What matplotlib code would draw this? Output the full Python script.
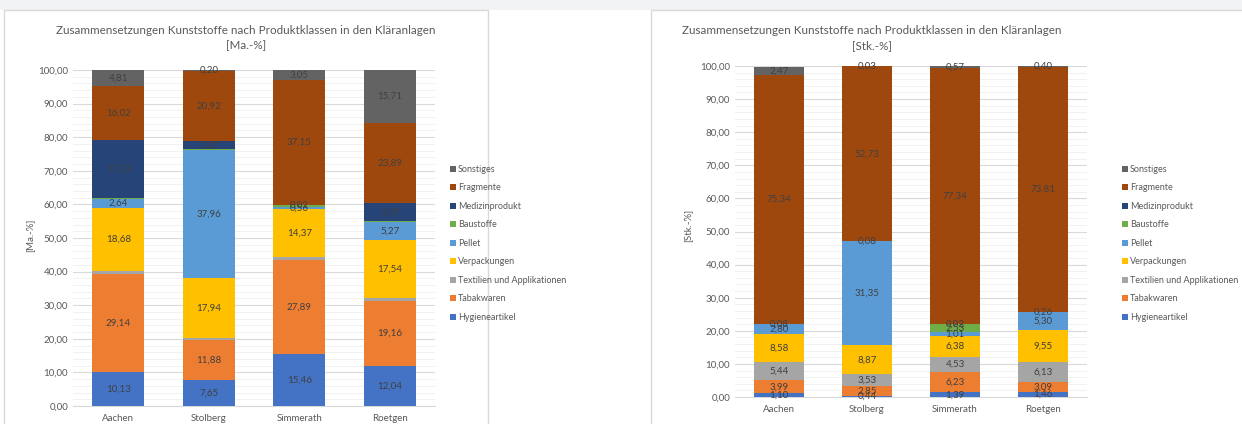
"""Zusammensetzung Kunststoffe nach Produktklassen (Ma.-% und Stk.-%)."""
import matplotlib
matplotlib.use("Agg")
import matplotlib.pyplot as plt
from matplotlib.patches import Rectangle
from matplotlib.ticker import MultipleLocator

plt.rcParams["font.family"] = ["Lato", "DejaVu Sans"]

standorte = ["Aachen", "Stolberg", "Simmerath", "Roetgen"]
klassen = ["Hygieneartikel", "Tabakwaren", "Textilien und Applikationen", "Verpackungen",
           "Pellet", "Baustoffe", "Medizinprodukt", "Fragmente", "Sonstiges"]
farben = ["#4472C4", "#ED7D31", "#A5A5A5", "#FFC000", "#5B9BD5",
          "#70AD47", "#264478", "#9E480E", "#636363"]

# Massenanteile [Ma.-%], je Klasse: Aachen, Stolberg, Simmerath, Roetgen
ma_hygiene = [10.13, 7.65, 15.46, 12.04]
ma_tabak = [29.14, 11.88, 27.89, 19.16]
ma_textil = [1.00, 0.70, 1.00, 0.80]
ma_verpackung = [18.68, 17.94, 14.37, 17.54]
ma_pellet = [2.64, 37.96, 0.56, 5.27]
ma_bau = [0.25, 0.50, 0.50, 0.20]
ma_medizin = [17.33, 2.25, 0.02, 5.39]
ma_fragmente = [16.02, 20.92, 37.15, 23.89]
ma_sonstiges = [4.81, 0.20, 3.05, 15.71]

# Stückanteile [Stk.-%]
st_hygiene = [1.10, 0.44, 1.39, 1.46]
st_tabak = [3.99, 2.85, 6.23, 3.09]
st_textil = [5.44, 3.53, 4.53, 6.13]
st_verpackung = [8.58, 8.87, 6.38, 9.55]
st_pellet = [2.80, 31.35, 1.01, 5.30]
st_bau = [0.08, 0.08, 2.53, 0.00]
st_medizin = [0.00, 0.00, 0.02, 0.26]
st_fragmente = [75.34, 52.73, 77.34, 73.81]
st_sonstiges = [2.47, 0.03, 0.57, 0.40]

ma_daten = [ma_hygiene, ma_tabak, ma_textil, ma_verpackung, ma_pellet,
            ma_bau, ma_medizin, ma_fragmente, ma_sonstiges]
st_daten = [st_hygiene, st_tabak, st_textil, st_verpackung, st_pellet,
            st_bau, st_medizin, st_fragmente, st_sonstiges]

# im Ma.-% Diagramm sind Textilien und Baustoffe nicht beschriftet
ma_ohne_label = {"Textilien und Applikationen", "Baustoffe"}

W, H = 1242, 424
fig = plt.figure(figsize=(W / 100, H / 100), dpi=100)

# grauer Streifen oben + Rahmen der beiden Diagramme
fig.patches.append(Rectangle((0, 1 - 10 / H), 1, 10 / H, transform=fig.transFigure,
                             facecolor="#f2f3f5", edgecolor="none", zorder=-2))
for x0, x1 in [(4, 488), (651, 1250)]:
    fig.patches.append(Rectangle((x0 / W, -0.05), (x1 - x0) / W, 1.05 - 10 / H,
                                 transform=fig.transFigure, facecolor="white",
                                 edgecolor="#d9d9d9", linewidth=1.0, zorder=-1))


def px_axes(x0, x1, ytop, ybot):
    ax = fig.add_axes([x0 / W, 1 - ybot / H, (x1 - x0) / W, (ybot - ytop) / H])
    ax.patch.set_alpha(0)
    return ax


def zeichne(ax, daten, titel, ylabel, title_x, ylab_x, ylab_y, leg_x, ohne_label=()):
    bottom = [0.0] * len(standorte)
    handles = []
    for werte, name, farbe in zip(daten, klassen, farben):
        bars = ax.bar(range(len(standorte)), werte, 0.57, bottom=bottom, color=farbe,
                      label=name, zorder=3)
        handles.append(bars)
        if name not in ohne_label:
            for i, v in enumerate(werte):
                if v > 0:
                    ax.text(i, bottom[i] + v / 2, f"{v:.2f}".replace(".", ","),
                            ha="center", va="center", fontsize=7, color="#404040", zorder=4)
        bottom = [b + v for b, v in zip(bottom, werte)]
    ax.set_xlim(-0.5, len(standorte) - 0.5)
    ax.set_ylim(0, 100)
    ax.yaxis.set_major_locator(MultipleLocator(10))
    ax.yaxis.set_minor_locator(MultipleLocator(2))
    ax.set_yticks(ax.get_yticks())
    ax.set_yticklabels([f"{t:.2f}".replace(".", ",") for t in ax.get_yticks()])
    ax.set_ylim(0, 100)
    ax.grid(axis="y", which="major", color="#d9d9d9", linewidth=0.8, zorder=0)
    ax.grid(axis="y", which="minor", color="#efefef", linewidth=0.6, zorder=0)
    ax.set_xticks(range(len(standorte)))
    ax.set_xticklabels(standorte)
    ax.tick_params(axis="both", which="both", length=0, labelsize=7, colors="#595959")
    ax.tick_params(axis="x", pad=6)
    for s in ["top", "right", "left"]:
        ax.spines[s].set_visible(False)
    ax.spines["bottom"].set_color("#d9d9d9")
    fig.text(title_x / W, 1 - 38 / H, titel, ha="center", va="center", fontsize=8.4,
             color="#595959", linespacing=1.5)
    fig.text(ylab_x / W, 1 - ylab_y / H, ylabel, rotation=90, ha="center", va="center",
             fontsize=7, color="#595959")
    ax.legend(handles[::-1], klassen[::-1], loc="upper left",
              bbox_to_anchor=(leg_x / W, 1 - 165 / H), bbox_transform=fig.transFigure,
              frameon=False, fontsize=6.5, labelcolor="#595959", handlelength=0.7,
              handleheight=0.7, handletextpad=0.2, labelspacing=1.05, borderpad=0,
              borderaxespad=0)


ax1 = px_axes(73, 435, 70, 406)
zeichne(ax1, ma_daten,
        "Zusammensetzungen Kunststoffe nach Produktklassen in den Kläranlagen\n[Ma.-%]",
        "[Ma.-%]", 246, 30, 235, 450, ma_ohne_label)

ax2 = px_axes(735, 1087, 66, 397)
zeichne(ax2, st_daten,
        "Zusammensetzungen Kunststoffe nach Produktklassen in den Kläranlagen\n[Stk.-%]",
        "[Stk.-%]", 872, 688, 225, 1122)

fig.savefig("out.png", dpi=100)
